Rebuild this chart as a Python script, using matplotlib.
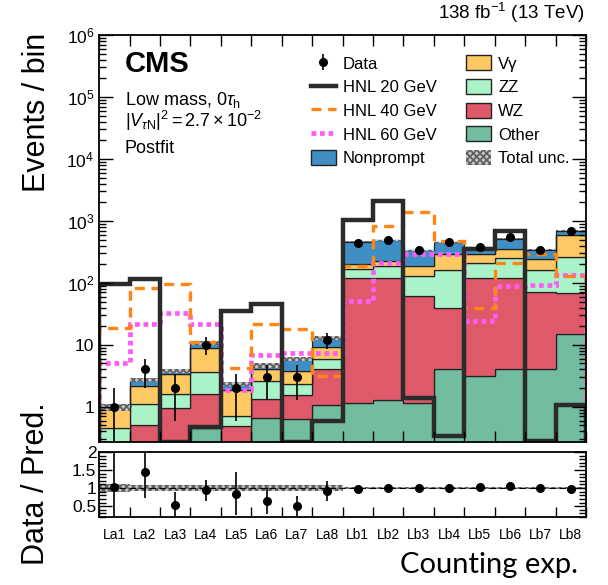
import numpy as np
import matplotlib
matplotlib.use("Agg")
import matplotlib.pyplot as plt
from matplotlib.patches import Patch
from matplotlib.lines import Line2D
from matplotlib.ticker import FixedLocator, FuncFormatter, MultipleLocator, LogLocator, NullFormatter

plt.rcParams['font.family'] = ['Liberation Sans', 'DejaVu Sans']
plt.rcParams['mathtext.fontset'] = 'custom'
plt.rcParams['mathtext.rm'] = 'Liberation Sans'
plt.rcParams['mathtext.it'] = 'Liberation Sans:italic'
plt.rcParams['mathtext.bf'] = 'Liberation Sans:bold'
plt.rcParams['mathtext.sf'] = 'Liberation Sans'
plt.rcParams['hatch.linewidth'] = 1.2

# counting experiment bins
bins = ['La1', 'La2', 'La3', 'La4', 'La5', 'La6', 'La7', 'La8',
        'Lb1', 'Lb2', 'Lb3', 'Lb4', 'Lb5', 'Lb6', 'Lb7', 'Lb8']

# postfit background yields
other = [0.05, 0.1, 0.1, 0.46, 0.1, 0.67, 0.64, 1.05,
         1.17, 1.27, 1.13, 4.0, 3.1, 4.1, 4.0, 14.7]
wz = [0.15, 0.41, 0.87, 1.16, 0.39, 0.66, 0.92, 3.08,
      119.8, 116.7, 59.9, 36.0, 115.0, 114.0, 66.0, 55.0]
zz = [0.25, 0.61, 0.65, 2.08, 0.21, 1.31, 0.8, 1.87,
      45.0, 66.0, 68.0, 121.0, 95.0, 132.0, 91.0, 195.0]
vgamma = [0.5, 1.01, 1.78, 5.2, 1.14, 1.49, 1.47, 3.3,
          34.0, 42.0, 59.0, 129.0, 77.0, 100.0, 79.0, 325.0]
nonprompt = [0.03, 0.61, 0.4, 1.8, 0.52, 0.54, 2.17, 3.7,
             260.0, 264.0, 150.0, 160.0, 83.0, 170.0, 103.0, 110.0]

# relative total uncertainty
rel_unc = [0.12, 0.08, 0.08, 0.08, 0.08, 0.08, 0.08, 0.08,
           0.02, 0.02, 0.02, 0.02, 0.02, 0.02, 0.02, 0.02]

data = [1, 4, 2, 10, 2, 3, 3, 12, 445, 495, 340, 452, 385, 545, 345, 685]

# signal hypotheses
hnl20 = [95, 117, 0.27, 0.48, 35, 46, 0.27, 0.58,
         1050, 2070, 1.38, 0.34, 350, 680, 0.28, 1.05]
hnl40 = [18.4, 84, 97, 11.1, 4.3, 22, 17.7, 3.1,
         184, 830, 1370, 478, 40, 213, 290, 130]
hnl60 = [5.1, 21.3, 33, 22, 1.89, 6.8, 7.4, 7.4,
         51, 213, 290, 290, 24, 89, 92, 135]

n = len(bins)
edges = np.arange(n + 1)
centers = edges[:-1] + 0.5

fig = plt.figure(figsize=(6.08, 5.85), dpi=100)
ax = fig.add_axes([0.163, 0.2444, 0.801, 0.6957])
axr = fig.add_axes([0.163, 0.1162, 0.801, 0.1112])

stack = [
    ('Other', other, '#72bd9f'),
    ('WZ', wz, '#de5a6b'),
    ('ZZ', zz, '#aaf3c8'),
    (u'V\u03b3', vgamma, '#fec863'),
    ('Nonprompt', nonprompt, '#3f8fc6'),
]
bottom = np.full(n, 1e-3)
for name, vals, col in stack:
    top = bottom + np.array(vals)
    ax.stairs(top, edges, baseline=bottom, fill=True, facecolor=col,
              edgecolor='#222222', lw=0.9)
    bottom = top
total = bottom

unc = np.array(rel_unc)
ax.stairs(total * (1 + unc), edges, baseline=total * (1 - unc), fill=True,
          facecolor='#c4c4c4', edgecolor='#5e5e5e', hatch='xxxxx', lw=0)

ax.stairs(hnl60, edges, color='#ff5cf4', lw=3.4, linestyle=(0, (1, 0.8)))
ax.stairs(hnl40, edges, color='#ff8515', lw=2.4, linestyle=(0, (3, 2)))
ax.stairs(hnl20, edges, color='#2b2b2b', lw=3.2)

d = np.array(data, dtype=float)
err = np.sqrt(d)
err_lo = np.minimum(err, d * 0.999)
dat = ax.errorbar(centers, d, yerr=[err_lo, err], fmt='o', color='k',
                  ms=5.5, elinewidth=1.2, capsize=0, zorder=5)

ax.set_yscale('log')
ax.set_ylim(0.27, 1e6)
ax.set_xlim(0, n)


def log_fmt(v, pos):
    if abs(v - 1) < 1e-9:
        return '1'
    if abs(v - 10) < 1e-9:
        return '10'
    return r'$10^{%d}$' % int(round(np.log10(v)))


ax.yaxis.set_major_locator(LogLocator(base=10, numticks=10))
ax.yaxis.set_major_formatter(FuncFormatter(log_fmt))
ax.yaxis.set_minor_locator(LogLocator(base=10, subs=np.arange(2, 10), numticks=20))
ax.yaxis.set_minor_formatter(NullFormatter())
ax.set_xticks(edges)
ax.set_xticklabels([])
ax.tick_params(axis='y', which='major', labelsize=12.5, length=10)
ax.tick_params(axis='y', which='minor', length=5)
ax.tick_params(which='both', direction='in', top=True, right=True, width=1)
ax.tick_params(axis='x', length=8)

# ratio panel
ratio = d / total
ratio_err = err / total
axr.stairs(1 + unc, edges, baseline=1 - unc, fill=True, facecolor='#c4c4c4',
           edgecolor='#5e5e5e', hatch='xxxxx', lw=0)
axr.axhline(1, color='k', lw=0.8, linestyle=(0, (6, 3)))
axr.errorbar(centers, ratio, yerr=ratio_err, fmt='o', color='k', ms=5.5,
             elinewidth=1.2, capsize=0, zorder=5)
axr.set_xlim(0, n)
axr.set_ylim(0.2, 2.0)
axr.yaxis.set_major_locator(FixedLocator([0.5, 1, 1.5, 2]))
axr.yaxis.set_major_formatter(FuncFormatter(lambda v, p: '%g' % v))
axr.yaxis.set_minor_locator(MultipleLocator(0.1))
axr.set_xticks(edges)
axr.set_xticklabels([])
axr.set_xticks(centers, bins, minor=True)
axr.tick_params(which='both', direction='in', top=False, right=True, width=1)
axr.tick_params(axis='y', which='major', labelsize=12.5, length=9, pad=2)
axr.tick_params(axis='y', which='minor', length=5)
axr.tick_params(axis='x', which='major', length=7)
axr.tick_params(axis='x', which='minor', length=0, labelsize=10, pad=8)

for a in (ax, axr):
    for s in a.spines.values():
        s.set_linewidth(1.3)

# legend
handles = [
    dat,
    Line2D([], [], color='#2b2b2b', lw=3.2),
    Line2D([], [], color='#ff8515', lw=2.4, linestyle=(0, (3, 2))),
    Line2D([], [], color='#ff5cf4', lw=3.4, linestyle=(0, (1, 0.8))),
    Patch(facecolor='#3f8fc6', edgecolor='#222222', lw=1),
    Patch(facecolor='#fec863', edgecolor='#222222', lw=1),
    Patch(facecolor='#aaf3c8', edgecolor='#222222', lw=1),
    Patch(facecolor='#de5a6b', edgecolor='#222222', lw=1),
    Patch(facecolor='#72bd9f', edgecolor='#222222', lw=1),
    Patch(facecolor='#c4c4c4', edgecolor='#5e5e5e', hatch='xxxxx', lw=0),
]
labels = ['Data', 'HNL 20 GeV', 'HNL 40 GeV', 'HNL 60 GeV', 'Nonprompt',
          u'V\u03b3', 'ZZ', 'WZ', 'Other', 'Total unc.']
ax.legend(handles, labels, ncol=2, loc='upper left',
          bbox_to_anchor=(0.435, 0.95), frameon=False, fontsize=12,
          handlelength=1.5, handleheight=1.0, labelspacing=0.45,
          columnspacing=1.8, handletextpad=0.4, borderaxespad=0,
          borderpad=0)

ax.text(0.053, 0.93, 'CMS', transform=ax.transAxes, fontsize=21,
        fontweight='bold', va='center', ha='left')
ax.text(0.053, 0.84, r'Low mass, 0$\tau_{\mathrm{h}}$', transform=ax.transAxes,
        fontsize=13, va='center', ha='left')
ax.text(0.053, 0.79, r'$|V_{\tau\mathrm{N}}|^2 = 2.7\times10^{-2}$',
        transform=ax.transAxes, fontsize=13, va='center', ha='left')
ax.text(0.053, 0.72, 'Postfit', transform=ax.transAxes, fontsize=13,
        va='center', ha='left')

fig.text(0.962, 0.958, r'138 fb$^{-1}$ (13 TeV)', fontsize=13.5,
         ha='right', va='bottom')
fig.text(0.061, 0.808, 'Events / bin', rotation=90, fontsize=22,
         ha='center', va='center')
fig.text(0.059, 0.174, 'Data / Pred.', rotation=90, fontsize=22,
         ha='center', va='center')
fig.text(0.951, 0.012, 'Counting exp.', family='Lato', fontsize=21,
         ha='right', va='bottom')

fig.savefig('out.png', dpi=100)
